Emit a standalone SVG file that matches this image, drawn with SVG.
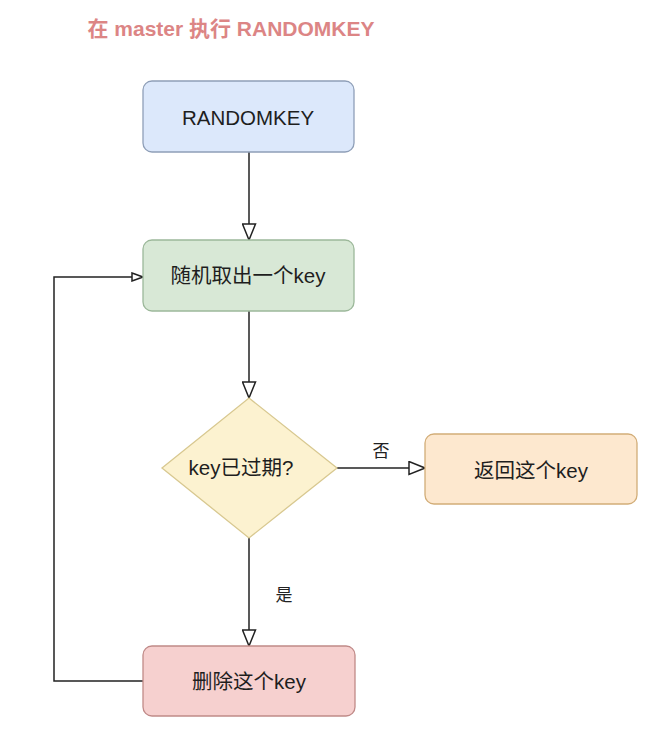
<svg xmlns="http://www.w3.org/2000/svg" width="664" height="738" viewBox="0 0 664 738">
<style>
.t{font-family:"Liberation Sans","Noto Sans CJK SC",sans-serif;font-size:20.5px;fill:#1e1e1e;text-anchor:middle}
.lbl{font-family:"Liberation Sans","Noto Sans CJK SC",sans-serif;font-size:17px;fill:#222;text-anchor:middle}
.title{font-family:"Liberation Sans","Noto Sans CJK SC",sans-serif;font-size:21px;font-weight:bold;fill:#dc8585;text-anchor:middle}
.ln{fill:none;stroke:#222;stroke-width:1.5}
</style>
<defs>
<marker id="big" viewBox="0 0 18 15" refX="17" refY="7.5" markerWidth="18" markerHeight="15" markerUnits="userSpaceOnUse" orient="auto">
<path d="M1,1 L17,7.5 L1,14 Z" fill="#fff" stroke="#222" stroke-width="1.5"/>
</marker>
<marker id="small" viewBox="0 0 13 10" refX="12" refY="5" markerWidth="13" markerHeight="10" markerUnits="userSpaceOnUse" orient="auto">
<path d="M1,1 L12,5 L1,9 Z" fill="#fff" stroke="#222" stroke-width="1.5"/>
</marker>
</defs>
<rect width="664" height="738" fill="#fff"/>
<text class="title" x="231" y="36">在 master 执行 RANDOMKEY</text>
<g id="connectors">
<line class="ln" x1="249" y1="152" x2="249" y2="240" marker-end="url(#big)"/>
<line class="ln" x1="249" y1="311" x2="249" y2="398" marker-end="url(#big)"/>
<line class="ln" x1="249" y1="538" x2="249" y2="646" marker-end="url(#big)"/>
<line class="ln" x1="337" y1="468" x2="425" y2="468" marker-end="url(#big)"/>
<polyline class="ln" points="143,681 54,681 54,277 143,277" marker-end="url(#small)"/>
<text class="lbl" x="381" y="457">否</text>
<text class="lbl" x="284" y="601">是</text>
</g>
<g id="randomkey">
<rect x="143" y="81" width="211" height="71" rx="9" fill="#dce8fb" stroke="#8f9fb8" stroke-width="1.3"/>
<text class="t" x="248" y="125">RANDOMKEY</text>
</g>
<g id="pick">
<rect x="143" y="240" width="211" height="71" rx="9" fill="#d8e8d6" stroke="#9cb89a" stroke-width="1.3"/>
<text class="t" x="248" y="283">随机取出一个key</text>
</g>
<g id="expired">
<polygon points="249,398 337,468 249,538 162,468" fill="#fcf2d0" stroke="#d8c890" stroke-width="1.3"/>
<text class="t" x="241" y="475">key已过期?</text>
</g>
<g id="return">
<rect x="425" y="434" width="212" height="70" rx="9" fill="#fde8cf" stroke="#d2ad78" stroke-width="1.3"/>
<text class="t" x="531" y="478">返回这个key</text>
</g>
<g id="delete">
<rect x="143" y="646" width="212" height="70" rx="9" fill="#f6d0cf" stroke="#c08a88" stroke-width="1.3"/>
<text class="t" x="249" y="689">删除这个key</text>
</g>
</svg>
